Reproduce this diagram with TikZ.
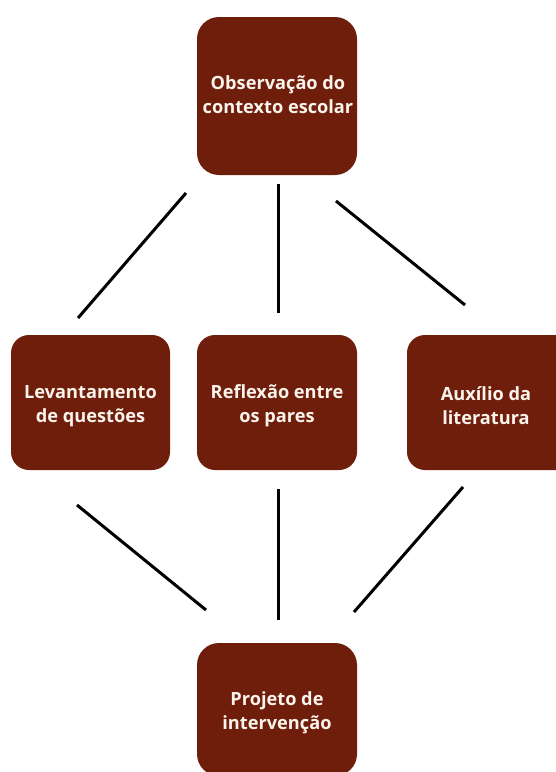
\documentclass[tikz,border=0pt]{standalone}
\usepackage{fontspec}
\setmainfont{Open Sans}
\definecolor{boxred}{RGB}{112,30,12}
\definecolor{boxtext}{RGB}{250,244,236}
\begin{document}
\begin{tikzpicture}[x=1pt,y=-1pt,
  card/.style={fill=boxred, rounded corners=22pt, draw=none},
  lbl/.style={text=boxtext, font=\fontsize{18.2}{24}\selectfont\bfseries, align=center},
  link/.style={line width=3pt, black}]
\useasboundingbox[fill=white] (0,0) rectangle (555,772);
% boxes
\fill[card] (197,17) rectangle (357,175);
\node[lbl] (obs) at (278,95) {Observação do\\contexto escolar};
\fill[card, rounded corners=18pt] (11,335) rectangle (170,470);
\node[lbl] (lev) at (90.5,406) {Levantamento\\de questões};
\fill[card, rounded corners=18pt] (197,335) rectangle (357,470);
\node[lbl] (ref) at (277,406) {Reflexão entre\\os pares};
\fill[card, rounded corners=18pt] (407,335) rectangle (580,470);
\node[lbl] (aux) at (486,406) {Auxílio da\\literatura};
\fill[card] (197,643) rectangle (357,776);
\node[lbl] (proj) at (277,713) {Projeto de\\intervenção};
% connector end points
\coordinate (a1) at (186,193); \coordinate (a2) at (78,318);
\coordinate (b1) at (278,184); \coordinate (b2) at (278,313);
\coordinate (c1) at (336,201); \coordinate (c2) at (465,305);
\coordinate (d1) at (77,505); \coordinate (d2) at (206,610);
\coordinate (e1) at (278,489); \coordinate (e2) at (278,620);
\coordinate (f1) at (463,487); \coordinate (f2) at (354,612);
\draw[link] (a1) -- (a2);
\draw[link] (b1) -- (b2);
\draw[link] (c1) -- (c2);
\draw[link] (d1) -- (d2);
\draw[link] (e1) -- (e2);
\draw[link] (f1) -- (f2);
\end{tikzpicture}
\end{document}
